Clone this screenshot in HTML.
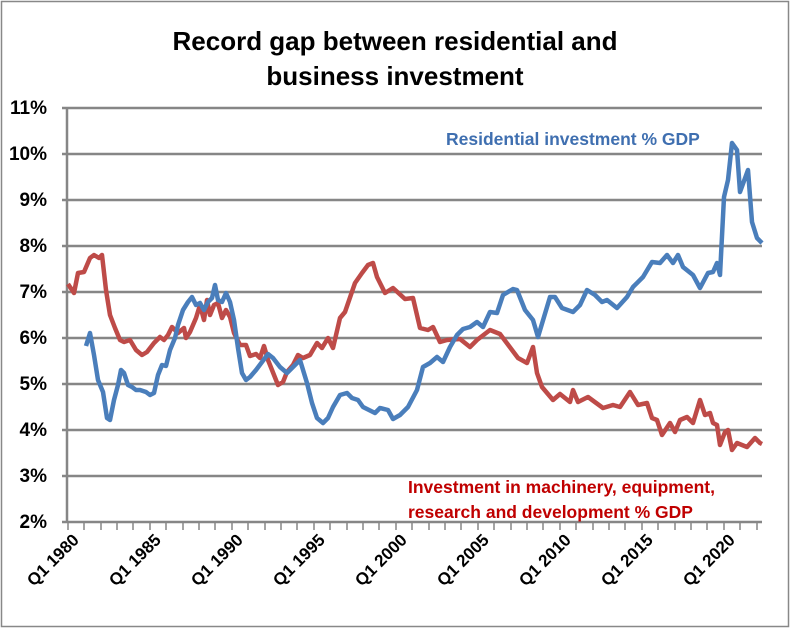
<!DOCTYPE html>
<html><head><meta charset="utf-8"><style>
body{margin:0;background:#fff}
svg text{font-family:"Liberation Sans",sans-serif;font-weight:bold}
</style></head><body>
<svg width="791" height="629" viewBox="0 0 791 629" xmlns="http://www.w3.org/2000/svg">
<rect x="1.5" y="1.5" width="787" height="625" fill="#fff" stroke="#888" stroke-width="1.5"/>
<text x="395" y="50" font-size="26" text-anchor="middle" fill="#000">Record gap between residential and</text>
<text x="395" y="85" font-size="26" text-anchor="middle" fill="#000">business investment</text>
<g stroke="#868686" stroke-width="2.5">
<line x1="62" y1="108" x2="762" y2="108"/><line x1="62" y1="154" x2="762" y2="154"/>
<line x1="62" y1="200" x2="762" y2="200"/><line x1="62" y1="246" x2="762" y2="246"/>
<line x1="62" y1="292" x2="762" y2="292"/><line x1="62" y1="338" x2="762" y2="338"/>
<line x1="62" y1="384" x2="762" y2="384"/><line x1="62" y1="430" x2="762" y2="430"/>
<line x1="62" y1="476" x2="762" y2="476"/><line x1="62" y1="522" x2="762" y2="522"/>
<line x1="67" y1="108" x2="67" y2="522"/>
</g>
<g font-size="19" text-anchor="end" fill="#000">
<text x="47" y="114">11%</text><text x="47" y="160">10%</text><text x="47" y="206">9%</text>
<text x="47" y="252">8%</text><text x="47" y="298">7%</text><text x="47" y="344">6%</text>
<text x="47" y="390">5%</text><text x="47" y="436">4%</text><text x="47" y="482">3%</text>
<text x="47" y="528">2%</text>
</g>
<g font-size="17" text-anchor="end" fill="#000">
<text transform="translate(80,541) rotate(-45)">Q1 1980</text>
<text transform="translate(162,541) rotate(-45)">Q1 1985</text>
<text transform="translate(244,541) rotate(-45)">Q1 1990</text>
<text transform="translate(326,541) rotate(-45)">Q1 1995</text>
<text transform="translate(408,541) rotate(-45)">Q1 2000</text>
<text transform="translate(490,541) rotate(-45)">Q1 2005</text>
<text transform="translate(572,541) rotate(-45)">Q1 2010</text>
<text transform="translate(654,541) rotate(-45)">Q1 2015</text>
<text transform="translate(736,541) rotate(-45)">Q1 2020</text>
</g>
<polyline fill="none" stroke="#be4b48" stroke-width="4.5" stroke-linejoin="round" points="68,284 70,287 74,293 78,273 84,272 90,258 94,255 99,258 102,255 106,290 110,315 115,328 120,340 124,342 130,340 136,350 142,355 147,352 154,343 160,337 164,340 168,335 172,327 178,333 184,328 186,338 190,332 196,318 200,305 204,320 207,300 210,315 214,305 218,303 222,318 226,310 230,317 234,333 240,345 246,345 250,356 256,354 260,358 264,346 268,360 272,370 278,385 283,382 287,372 293,365 298,355 303,358 310,355 317,343 322,348 328,338 333,348 340,318 345,312 355,283 362,273 368,265 373,263 377,277 385,293 393,288 405,299 413,298 420,328 428,330 433,327 440,342 447,340 460,339 470,347 477,340 490,330 500,334 512,350 518,358 527,363 533,347 537,373 542,387 553,400 560,394 570,402 573,390 578,402 588,397 603,408 613,405 620,407 630,392 638,405 647,403 652,418 657,420 662,435 670,423 675,432 680,420 687,417 693,423 700,400 705,415 710,413 713,423 717,425 720,445 725,432 728,430 732,450 737,443 747,447 755,438 760,443 762,444"/>
<polyline fill="none" stroke="#4a7ebb" stroke-width="4.5" stroke-linejoin="round" points="86,346 90,333 94,355 98,380 103,392 107,418 110,420 114,400 118,385 121,370 124,373 128,385 132,387 136,390 140,390 146,392 150,395 154,393 158,375 162,365 166,366 170,350 175,338 178,325 183,310 188,302 192,297 196,305 200,303 204,310 208,302 212,298 215,285 218,300 222,302 226,293 230,302 234,320 238,348 242,373 246,380 250,377 256,370 262,362 268,354 273,358 280,367 287,373 293,367 300,360 307,383 312,403 317,418 323,423 328,418 333,407 340,395 347,393 352,398 358,400 363,407 375,413 380,408 388,410 393,419 400,415 408,407 417,390 423,367 430,363 437,357 443,362 450,347 457,335 463,329 470,327 477,322 483,327 490,312 497,313 503,295 513,289 517,290 525,310 533,320 538,337 550,297 555,297 562,308 573,312 580,305 587,290 595,295 602,302 607,300 617,308 627,297 633,287 643,277 652,262 660,263 667,255 673,263 678,255 683,267 693,275 700,288 708,273 713,272 717,263 720,275 724,197 728,180 732,143 737,150 740,192 748,170 752,222 757,238 762,243"/>
<text x="446" y="145" font-size="17.5" fill="#3f6fb0">Residential investment % GDP</text>
<text x="408" y="493" font-size="17.5" fill="#c00000">Investment in machinery, equipment,</text>
<text x="408" y="518" font-size="17.5" fill="#c00000">research and development % GDP</text>
<g stroke="#868686" stroke-width="1.5">
<line x1="68" y1="522" x2="68" y2="530"/><line x1="84" y1="522" x2="84" y2="530"/><line x1="101" y1="522" x2="101" y2="530"/><line x1="117" y1="522" x2="117" y2="530"/><line x1="133" y1="522" x2="133" y2="530"/><line x1="150" y1="522" x2="150" y2="530"/><line x1="166" y1="522" x2="166" y2="530"/><line x1="183" y1="522" x2="183" y2="530"/><line x1="199" y1="522" x2="199" y2="530"/><line x1="215" y1="522" x2="215" y2="530"/><line x1="232" y1="522" x2="232" y2="530"/><line x1="248" y1="522" x2="248" y2="530"/><line x1="265" y1="522" x2="265" y2="530"/><line x1="281" y1="522" x2="281" y2="530"/><line x1="297" y1="522" x2="297" y2="530"/><line x1="314" y1="522" x2="314" y2="530"/><line x1="330" y1="522" x2="330" y2="530"/><line x1="347" y1="522" x2="347" y2="530"/><line x1="363" y1="522" x2="363" y2="530"/><line x1="379" y1="522" x2="379" y2="530"/><line x1="396" y1="522" x2="396" y2="530"/><line x1="412" y1="522" x2="412" y2="530"/><line x1="429" y1="522" x2="429" y2="530"/><line x1="445" y1="522" x2="445" y2="530"/><line x1="461" y1="522" x2="461" y2="530"/><line x1="478" y1="522" x2="478" y2="530"/><line x1="494" y1="522" x2="494" y2="530"/><line x1="511" y1="522" x2="511" y2="530"/><line x1="527" y1="522" x2="527" y2="530"/><line x1="543" y1="522" x2="543" y2="530"/><line x1="560" y1="522" x2="560" y2="530"/><line x1="576" y1="522" x2="576" y2="530"/><line x1="593" y1="522" x2="593" y2="530"/><line x1="609" y1="522" x2="609" y2="530"/><line x1="625" y1="522" x2="625" y2="530"/><line x1="642" y1="522" x2="642" y2="530"/><line x1="658" y1="522" x2="658" y2="530"/><line x1="675" y1="522" x2="675" y2="530"/><line x1="691" y1="522" x2="691" y2="530"/><line x1="707" y1="522" x2="707" y2="530"/><line x1="724" y1="522" x2="724" y2="530"/><line x1="740" y1="522" x2="740" y2="530"/><line x1="757" y1="522" x2="757" y2="530"/>
</g>
</svg>
</body></html>
